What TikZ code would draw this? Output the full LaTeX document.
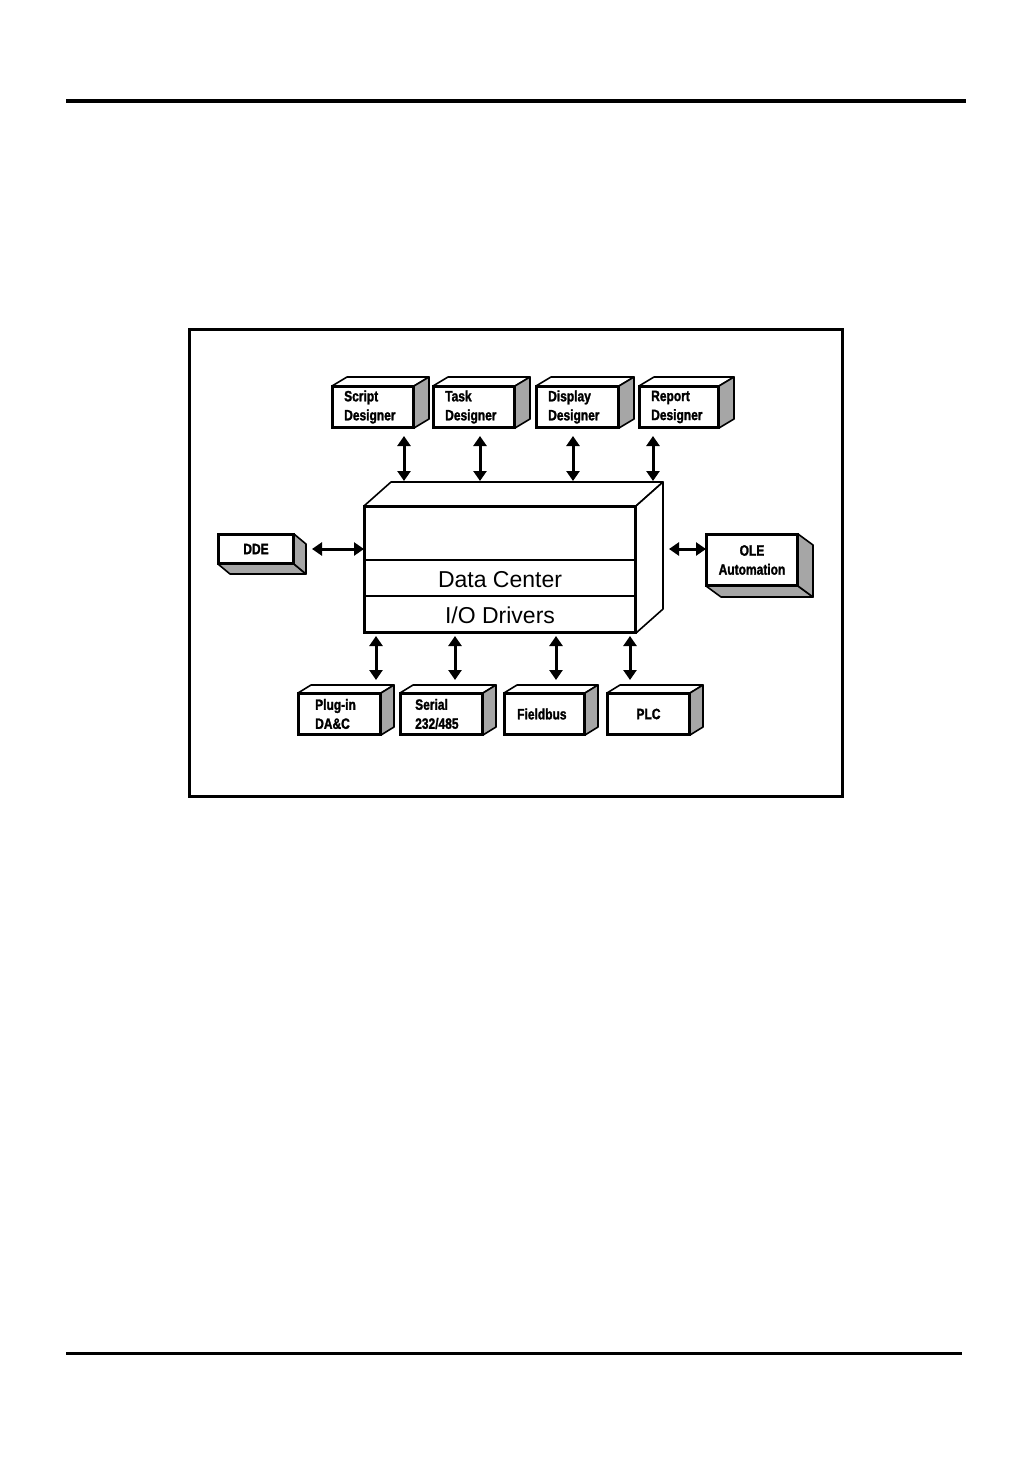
\documentclass[tikz,border=0pt]{standalone}
\usepackage{fontspec}
\setmainfont{Liberation Sans}
\newfontfamily\condfont[FakeStretch=0.8,BoldFeatures={FakeBold=1.6}]{Liberation Sans}
\usetikzlibrary{arrows.meta,calc}
\definecolor{sidegray}{HTML}{A6A6A6}
\tikzset{
  front/.style={draw, line width=2pt, fill=white, rectangle, inner sep=0pt},
  edge/.style={draw, line width=1.6pt, line join=round},
  lbl/.style={font=\condfont\bfseries\fontsize{15}{19}\selectfont, align=left, inner sep=0pt, anchor=west},
  big/.style={font=\fontsize{23}{26}\selectfont, inner sep=0pt},
  dar/.style={line width=3pt, {Triangle[length=10pt,width=13pt]}-{Triangle[length=10pt,width=13pt]}}
}
\newcommand\upbox[3]{% name, dx, dy (depth up-right)
  \draw[edge, fill=white] (#1.north west) -- ++(#2,-#3) -- ($(#1.north east)+(#2,-#3)$) -- (#1.north east) -- cycle;
  \draw[edge, fill=sidegray] (#1.north east) -- ++(#2,-#3) -- ($(#1.south east)+(#2,-#3)$) -- (#1.south east) -- cycle;
  \draw[front, fill=none] (#1.north west) rectangle (#1.south east);}
\newcommand\downbox[3]{% name, dx, dy (depth down-right)
  \draw[edge, fill=sidegray] (#1.south west) -- ++(#2,#3) -- ($(#1.south east)+(#2,#3)$) -- (#1.south east) -- cycle;
  \draw[edge, fill=sidegray] (#1.north east) -- ++(#2,#3) -- ($(#1.south east)+(#2,#3)$) -- (#1.south east) -- cycle;
  \draw[front, fill=none] (#1.north west) rectangle (#1.south east);}
\begin{document}
\begin{tikzpicture}[x=1pt,y=-1pt]
\useasboundingbox (0,0) rectangle (1032,1458);
% page rules and frame
\draw[line width=4pt] (66,101) -- (966,101);
\draw[line width=3pt] (66,1353) -- (962,1353);
\draw[line width=3pt] (189,329) rectangle (842,796);

% top boxes
\node[front, minimum width=80, minimum height=40] (s1) at (373,407) {};
\node[front, minimum width=80, minimum height=40] (s2) at (474,407) {};
\node[front, minimum width=81, minimum height=40] (s3) at (577.5,407) {};
\node[front, minimum width=78, minimum height=40] (s4) at (679,407) {};
\upbox{s1}{15}{9}
\upbox{s2}{15}{9}
\upbox{s3}{15}{9}
\upbox{s4}{15}{9}
\node[lbl] (s1t) at ([xshift=12pt]s1.west) {Script\\Designer};
\node[lbl] (s2t) at ([xshift=12pt]s2.west) {Task\\Designer};
\node[lbl] (s3t) at ([xshift=12pt]s3.west) {Display\\Designer};
\node[lbl] (s4t) at ([xshift=12pt]s4.west) {Report\\Designer};

% data center box
\node[front, minimum width=270, minimum height=125] (dc) at (500,569.5) {};
\draw[edge, fill=white] (dc.north west) -- ++(27,-24) -- ($(dc.north east)+(27,-24)$) -- (dc.north east) -- cycle;
\draw[edge, fill=white] (dc.north east) -- ++(27,-24) -- ($(dc.south east)+(27,-24)$) -- (dc.south east) -- cycle;
\draw[front, fill=none] (dc.north west) rectangle (dc.south east);
\coordinate (dctop) at (0,481);
\coordinate (dcbot) at (0,636);
\coordinate (botarr) at (0,680);
\draw[line width=2.2pt] (dc.west |- 0,560) -- (dc.east |- 0,560);
\draw[line width=1.2pt] (dc.west |- 0,596) -- (dc.east |- 0,596);
\node[big] (dct) at (500,580) {Data Center};
\node[big] (iot) at (500,615) {I/O Drivers};

% side boxes
\node[front, minimum width=74, minimum height=28] (dde) at (256,549) {};
\downbox{dde}{12}{10}
\node[lbl, anchor=center] (ddet) at (dde.center) {DDE};
\node[front, minimum width=90, minimum height=50] (ole) at (752,560) {};
\downbox{ole}{15}{11}
\node[lbl, anchor=center, align=center] (olet) at (ole.center) {OLE\\Automation};

% bottom boxes
\node[front, minimum width=81, minimum height=40] (b1) at (339.5,714) {};
\node[front, minimum width=81, minimum height=40] (b2) at (441.5,714) {};
\node[front, minimum width=79, minimum height=40] (b3) at (544.5,714) {};
\node[front, minimum width=81, minimum height=40] (b4) at (648.5,714) {};
\upbox{b1}{13}{8}
\upbox{b2}{13}{8}
\upbox{b3}{13}{8}
\upbox{b4}{13}{8}
\node[lbl] (b1t) at ([xshift=17pt]b1.west) {Plug-in\\DA\&C};
\node[lbl] (b2t) at ([xshift=15pt]b2.west) {Serial\\232/485};
\node[lbl] (b3t) at ([xshift=13pt]b3.west) {Fieldbus};
\node[lbl, anchor=center] (b4t) at (b4.center) {PLC};

% connectors
\draw[dar] ([xshift=-10pt,yshift=-8pt]s1.south east) -- ([xshift=-10pt]s1.south east |- dctop);
\draw[dar] ([xshift=-35pt,yshift=-8pt]s2.south east) -- ([xshift=-35pt]s2.south east |- dctop);
\draw[dar] ([xshift=-46pt,yshift=-8pt]s3.south east) -- ([xshift=-46pt]s3.south east |- dctop);
\draw[dar] ([xshift=-66pt,yshift=-8pt]s4.south east) -- ([xshift=-66pt]s4.south east |- dctop);
\draw[dar] ([xshift=18pt]dde.east) -- (dc.west |- dde.east);
\draw[dar] ([xshift=33pt]dc.east |- dde.east) -- (ole.west |- dde.east);
\draw[dar] ([xshift=-5pt]b1.east |- dcbot) -- ([xshift=-5pt]b1.east |- botarr);
\draw[dar] ([xshift=13.5pt]b2.center |- dcbot) -- ([xshift=13.5pt]b2.center |- botarr);
\draw[dar] ([xshift=11.5pt]b3.center |- dcbot) -- ([xshift=11.5pt]b3.center |- botarr);
\draw[dar] ([xshift=-60pt]b4.east |- dcbot) -- ([xshift=-60pt]b4.east |- botarr);
\end{tikzpicture}
\end{document}
